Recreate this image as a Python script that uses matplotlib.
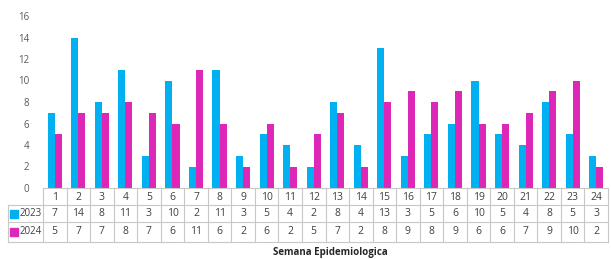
import matplotlib.pyplot as plt
import matplotlib.transforms as mtransforms
import numpy as np

weeks = [str(i) for i in range(1, 25)]
cases_2023 = [7, 14, 8, 11, 3, 10, 2, 11, 3, 5, 4, 2, 8, 4, 13, 3, 5, 6, 10, 5, 4, 8, 5, 3]
cases_2024 = [5, 7, 7, 8, 7, 6, 11, 6, 2, 6, 2, 5, 7, 2, 8, 9, 8, 9, 6, 6, 7, 9, 10, 2]
series_names = ['2023', '2024']
colors = ['#00B0F0', '#DD27B6']

plt.rcParams['font.family'] = ['Open Sans', 'DejaVu Sans']

W, H = 611, 259
fig = plt.figure(figsize=(W / 100, H / 100), dpi=100)
x0, x1, y0, y1 = 43, 608, 188, 16
ax = fig.add_axes([x0 / W, 1 - y0 / H, (x1 - x0) / W, (y0 - y1) / H])

x = np.arange(len(weeks))
bw = 0.3
ax.bar(x - bw / 2, cases_2023, bw, color=colors[0])
ax.bar(x + bw / 2, cases_2024, bw, color=colors[1])

ax.set_xlim(-0.5, len(weeks) - 0.5)
ax.set_ylim(0, 16)
ax.set_yticks(range(0, 17, 2))
ax.tick_params(axis='y', length=0, labelsize=7, colors='#595959', pad=10)
ax.set_xticks([])
for s in ax.spines.values():
    s.set_visible(False)

# data table under the plot
grid = '#C8C8C8'
tc = '#404040'
fs = 7.5
trans = mtransforms.blended_transform_factory(ax.transData, fig.transFigure)
ftrans = fig.transFigure


def fy(py):
    return 1 - py / H


rows_y = [188, 205, 222, 242]
# horizontal lines
ax.plot([-0.5, len(weeks) - 0.5], [fy(188)] * 2, transform=trans, color=grid, lw=0.8, clip_on=False)
for py in rows_y[1:]:
    fig.add_artist(plt.Line2D([8 / W, x1 / W], [fy(py)] * 2, transform=ftrans, color=grid, lw=0.8))
# vertical lines
for b in np.arange(-0.5, len(weeks), 1.0):
    ax.plot([b, b], [fy(188), fy(242)], transform=trans, color=grid, lw=0.8, clip_on=False)
fig.add_artist(plt.Line2D([8 / W, 8 / W], [fy(205), fy(242)], transform=ftrans, color=grid, lw=0.8))

for i, w in enumerate(weeks):
    ax.text(i, fy(197), w, transform=trans, ha='center', va='center', fontsize=fs, color=tc)
    ax.text(i, fy(214), str(cases_2023[i]), transform=trans, ha='center', va='center', fontsize=fs, color=tc)
    ax.text(i, fy(232), str(cases_2024[i]), transform=trans, ha='center', va='center', fontsize=fs, color=tc)

for name, col, py in zip(series_names, colors, [214, 232]):
    fig.add_artist(plt.Rectangle((10 / W, fy(py) - 4 / H), 8 / W, 8 / H, transform=ftrans, color=col))
    fig.text(20 / W, fy(py), name, ha='left', va='center', fontsize=7, color=tc)

fig.text(330 / W, fy(253), 'Semana Epidemiologica', ha='center', va='center', fontsize=7,
         fontweight='bold', color='#262626')

fig.savefig('out.png', dpi=100)
